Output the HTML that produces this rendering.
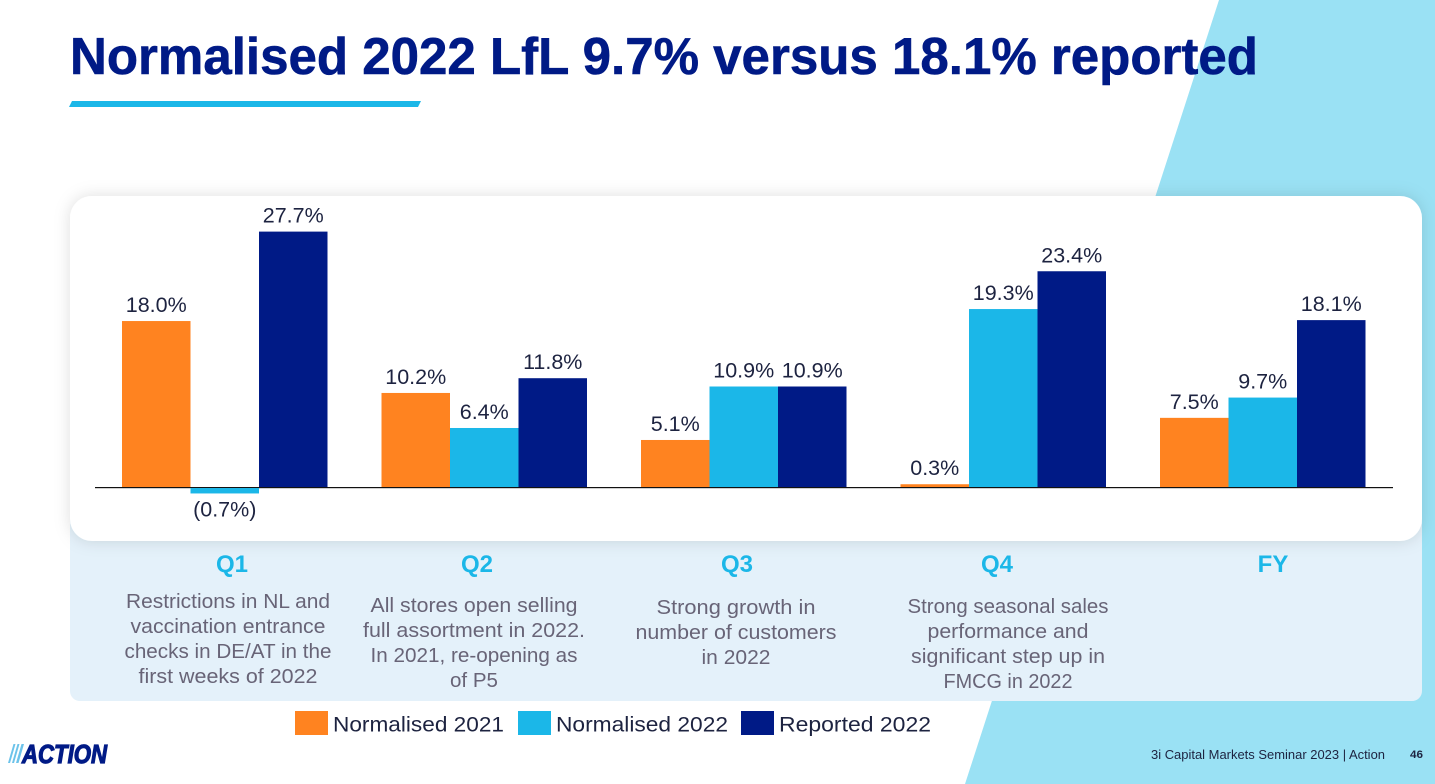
<!DOCTYPE html>
<html lang="en">
<head>
<meta charset="utf-8">
<title>Normalised 2022 LfL</title>
<style>
html,body{margin:0;padding:0;background:#fff;width:1435px;height:784px;overflow:hidden}
svg{display:block}
text{font-family:"Liberation Sans",sans-serif}
.desc{font-size:20.5px;fill:#686477;text-anchor:middle}
.q{font-size:24px;font-weight:bold;fill:#1bb7e8;text-anchor:middle}
.leg{font-size:21.5px;fill:#1d2340}
.val{font-size:21.5px;fill:#1d2340;text-anchor:middle}
</style>
</head>
<body>
<svg id="slide" width="1435" height="784" viewBox="0 0 1435 784" xmlns="http://www.w3.org/2000/svg">
  <defs>
    <filter id="cardShadow" x="-5%" y="-10%" width="110%" height="120%">
      <feDropShadow dx="0" dy="0" stdDeviation="8" flood-color="#000" flood-opacity="0.13"/>
    </filter>
  </defs>
  <polygon points="1219,0 1435,0 1435,784 965,784" fill="#9ae1f4"/>
  <text x="70" y="74" font-size="52" font-weight="bold" fill="#001a86" stroke="#001a86" stroke-width="0.6" textLength="1188" lengthAdjust="spacingAndGlyphs">Normalised 2022 LfL 9.7% versus 18.1% reported</text>
  <polygon points="72,101 421,101 418,107 69,107" fill="#1bb7e8"/>

  <rect x="70" y="500" width="1352" height="201" rx="10" fill="#e4f1fa"/>
  <rect x="70" y="196" width="1352" height="345" rx="22" fill="#fff" filter="url(#cardShadow)"/>

  <rect x="95" y="488" width="1298" height="1" fill="#cfcfcf"/>
  <g id="bars"></g>
  <g id="values"></g>
  <line id="axis" x1="95" x2="1393" stroke="#111111" stroke-width="1"/>

  <text class="q" x="232" y="572">Q1</text>
  <text class="q" x="477" y="572">Q2</text>
  <text class="q" x="737" y="572">Q3</text>
  <text class="q" x="997" y="572">Q4</text>
  <text class="q" x="1273" y="572">FY</text>

  <g>
    <text class="desc" x="228" y="608" textLength="204" lengthAdjust="spacingAndGlyphs">Restrictions in NL and</text>
    <text class="desc" x="228" y="633" textLength="195" lengthAdjust="spacingAndGlyphs">vaccination entrance</text>
    <text class="desc" x="228" y="658" textLength="207" lengthAdjust="spacingAndGlyphs">checks in DE/AT in the</text>
    <text class="desc" x="228" y="683" textLength="179" lengthAdjust="spacingAndGlyphs">first weeks of 2022</text>
  </g>
  <g>
    <text class="desc" x="474" y="612" textLength="207" lengthAdjust="spacingAndGlyphs">All stores open selling</text>
    <text class="desc" x="474" y="637" textLength="222" lengthAdjust="spacingAndGlyphs">full assortment in 2022.</text>
    <text class="desc" x="474" y="662" textLength="207" lengthAdjust="spacingAndGlyphs">In 2021, re-opening as</text>
    <text class="desc" x="474" y="687" textLength="48" lengthAdjust="spacingAndGlyphs">of P5</text>
  </g>
  <g>
    <text class="desc" x="736" y="614" textLength="159" lengthAdjust="spacingAndGlyphs">Strong growth in</text>
    <text class="desc" x="736" y="639" textLength="201" lengthAdjust="spacingAndGlyphs">number of customers</text>
    <text class="desc" x="736" y="664" textLength="69" lengthAdjust="spacingAndGlyphs">in 2022</text>
  </g>
  <g>
    <text class="desc" x="1008" y="613" textLength="201" lengthAdjust="spacingAndGlyphs">Strong seasonal sales</text>
    <text class="desc" x="1008" y="638" textLength="161" lengthAdjust="spacingAndGlyphs">performance and</text>
    <text class="desc" x="1008" y="663" textLength="194" lengthAdjust="spacingAndGlyphs">significant step up in</text>
    <text class="desc" x="1008" y="688" textLength="129" lengthAdjust="spacingAndGlyphs">FMCG in 2022</text>
  </g>

  <g>
    <rect x="295" y="711" width="33" height="24" fill="#ff8320"/>
    <text class="leg" x="333" y="731.5" textLength="171" lengthAdjust="spacingAndGlyphs">Normalised 2021</text>
    <rect x="518" y="711" width="33" height="24" fill="#1bb7e8"/>
    <text class="leg" x="556" y="731.5" textLength="172" lengthAdjust="spacingAndGlyphs">Normalised 2022</text>
    <rect x="741" y="711" width="33" height="24" fill="#001a86"/>
    <text class="leg" x="779" y="731.5" textLength="152" lengthAdjust="spacingAndGlyphs">Reported 2022</text>
  </g>

  <g>
    <polygon points="13.5,744 15.5,744 10,763 8,763" fill="#6cc3ea"/>
    <polygon points="17.5,744 19.5,744 14,763 12,763" fill="#6cc3ea"/>
    <polygon points="21.5,744 24,744 18.5,763 16,763" fill="#6cc3ea"/>
    <text x="22" y="763" font-size="26" font-weight="bold" font-style="italic" fill="#001a86" stroke="#001a86" stroke-width="1.2" textLength="85" lengthAdjust="spacingAndGlyphs">ACTION</text>
  </g>
  <text x="1151" y="759" font-size="12.5" fill="#1d2340" textLength="234" lengthAdjust="spacingAndGlyphs">3i Capital Markets Seminar 2023 | Action</text>
  <text x="1410" y="758" font-size="11" font-weight="bold" fill="#1d2340" textLength="13" lengthAdjust="spacingAndGlyphs">46</text>
</svg>
<script>
const categories = ['Q1', 'Q2', 'Q3', 'Q4', 'FY'];
const normalised2021 = [18.0, 10.2, 5.1, 0.3, 7.5];
const normalised2022 = [-0.7, 6.4, 10.9, 19.3, 9.7];
const reported2022 = [27.7, 11.8, 10.9, 23.4, 18.1];

const NS = 'http://www.w3.org/2000/svg';
const seriesList = [
  { key: 'normalised-2021', values: normalised2021, color: '#ff8320' },
  { key: 'normalised-2022', values: normalised2022, color: '#1bb7e8' },
  { key: 'reported-2022', values: reported2022, color: '#001a86' }
];
const baselineY = 487;
const pxPerPoint = 9.22;
const firstBarX = 122;
const groupStep = 259.5;
const barWidth = 68.5;

function yScale(v) { return baselineY - v * pxPerPoint; }
function xScale(groupIndex, seriesIndex) { return firstBarX + groupIndex * groupStep + seriesIndex * barWidth; }
function formatValue(v) {
  const s = Math.abs(v).toFixed(1) + '%';
  return v < 0 ? '(' + s + ')' : s;
}

const barsGroup = document.getElementById('bars');
const valuesGroup = document.getElementById('values');
document.getElementById('axis').setAttribute('y1', yScale(0) + 0.5);
document.getElementById('axis').setAttribute('y2', yScale(0) + 0.5);

seriesList.forEach(function (series, s) {
  series.values.forEach(function (v, c) {
    const top = Math.min(yScale(v), yScale(0));
    const bottom = Math.max(yScale(v), yScale(0));
    const bar = document.createElementNS(NS, 'rect');
    bar.setAttribute('x', xScale(c, s));
    bar.setAttribute('y', top);
    bar.setAttribute('width', barWidth);
    bar.setAttribute('height', bottom - top);
    bar.setAttribute('fill', series.color);
    
    
    barsGroup.appendChild(bar);

    const label = document.createElementNS(NS, 'text');
    label.setAttribute('class', 'val');
    label.setAttribute('x', xScale(c, s) + barWidth / 2);
    label.setAttribute('y', v < 0 ? bottom + 23 : top - 9);
    label.textContent = formatValue(v);
    
    
    valuesGroup.appendChild(label);
  });
});
</script>
</body>
</html>
